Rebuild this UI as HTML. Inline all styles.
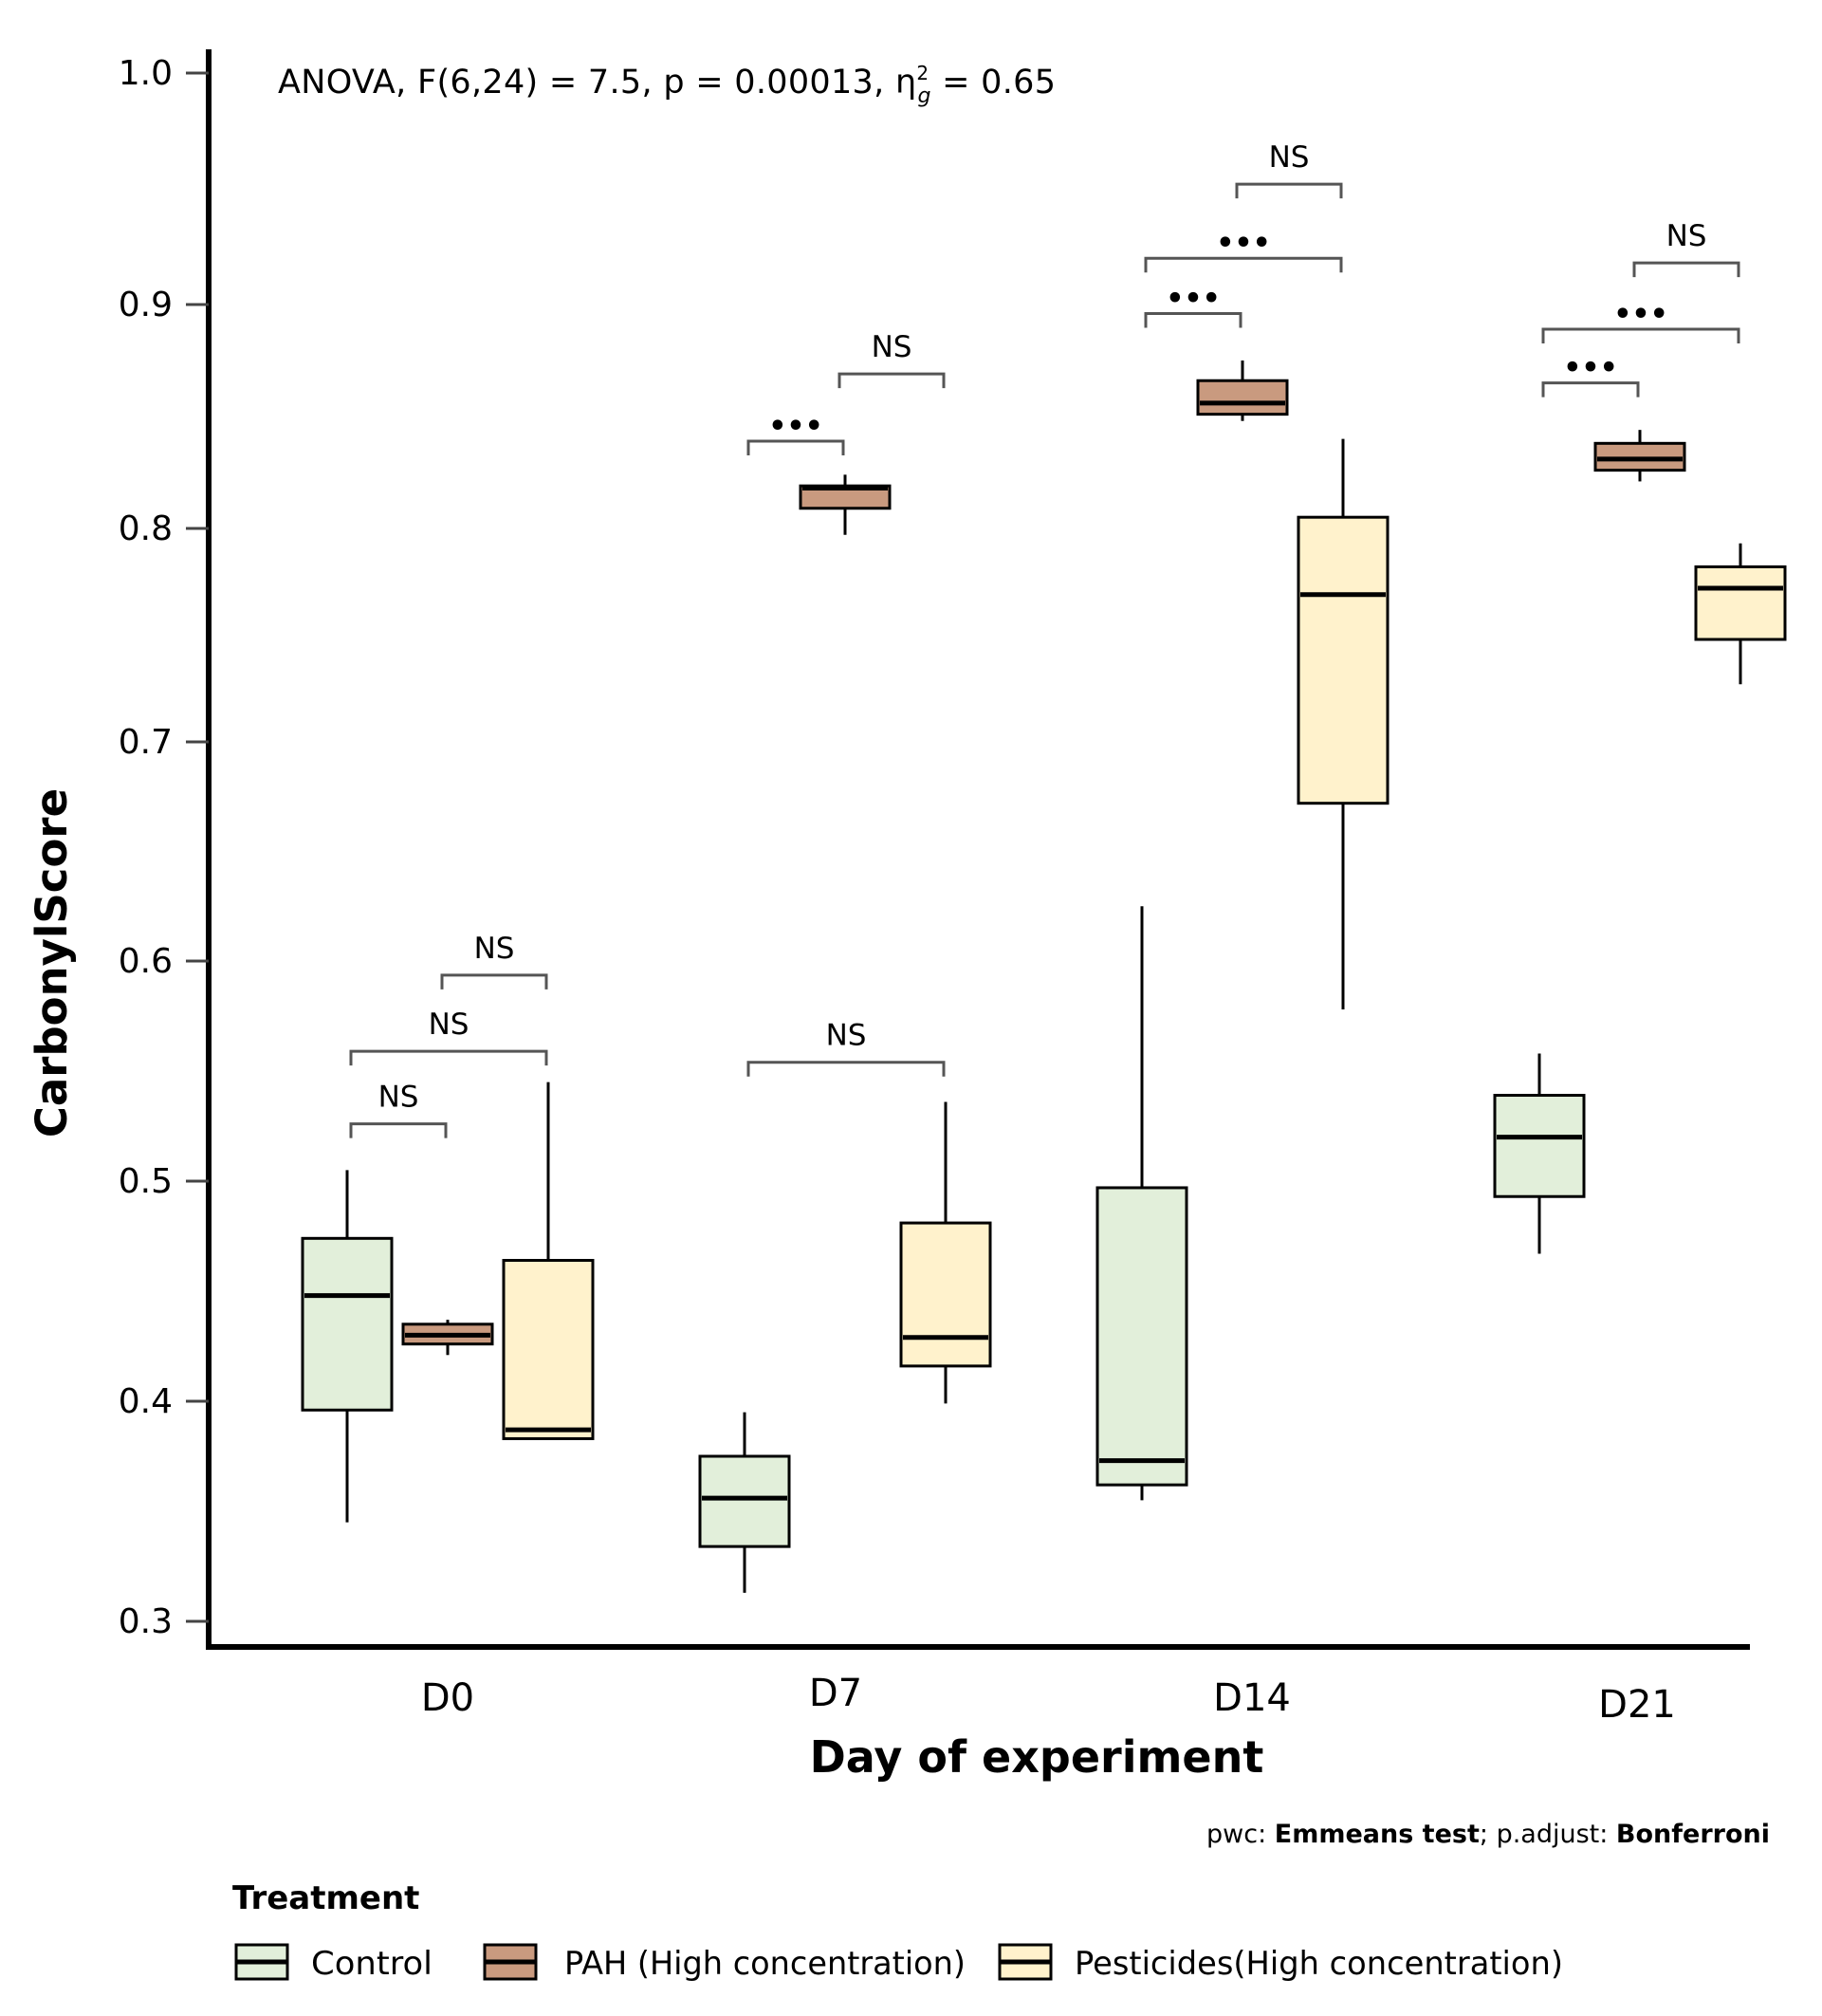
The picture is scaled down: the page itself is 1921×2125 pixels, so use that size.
<!DOCTYPE html>
<html><head><meta charset="utf-8"><style>
html,body{margin:0;padding:0;background:#fff}
svg{display:block}
text{font-family:"DejaVu Sans","Liberation Sans",sans-serif;fill:#000}
</style></head><body>
<svg id="chart" width="1921" height="2125" viewBox="0 0 1921 2125" xmlns="http://www.w3.org/2000/svg">
<g id="plot"></g>
<text x="293" y="98" font-size="35" textLength="820" lengthAdjust="spacing">ANOVA,  F(6,24) = 7.5,  p = 0.00013, η<tspan font-size="20" dy="-14">2</tspan><tspan font-size="22" dx="-12" dy="24" font-style="italic">g</tspan><tspan dy="-10"> =  0.65</tspan></text>
<text transform="translate(70,1015) rotate(-90)" text-anchor="middle" font-size="45" font-weight="bold">CarbonylScore</text>
<text x="1093" y="1868" text-anchor="middle" font-size="46" font-weight="bold">Day of experiment</text>
<text x="1866" y="1942" text-anchor="end" font-size="27">pwc: <tspan font-weight="bold">Emmeans test</tspan>; p.adjust: <tspan font-weight="bold">Bonferroni</tspan></text>
<text x="245" y="2012" font-size="34" font-weight="bold">Treatment</text>
<g id="legend"></g>
</svg>
<script>
const categories = ["D0","D7","D14","D21"];
const groups = ["Control","PAH (High concentration)","Pesticides(High concentration)"];
const colors = ["#e2efda","#c99a7f","#fff2cc"];
const yTicks = [0.3,0.4,0.5,0.6,0.7,0.8,0.9,1.0];
// per group: rows by category [whiskerLow, q1, median, q3, whiskerHigh]
const controlVals = [[0.345,0.396,0.448,0.474,0.505],[0.313,0.334,0.356,0.375,0.395],[0.355,0.362,0.373,0.497,0.625],[0.467,0.493,0.520,0.539,0.558]];
const pahVals = [[0.421,0.426,0.430,0.435,0.437],[0.797,0.809,0.818,0.819,0.824],[0.848,0.851,0.856,0.866,0.875],[0.821,0.826,0.831,0.838,0.844]];
const pestVals = [[0.383,0.383,0.387,0.464,0.545],[0.399,0.416,0.429,0.481,0.536],[0.578,0.672,0.769,0.805,0.840],[0.727,0.748,0.772,0.782,0.793]];
// brackets: [categoryIndex, groupA, groupB, yValue, label]
const bracketCat = [0,0,0,1,1,1,2,2,2,3,3,3];
const bracketFrom = [1,0,0,0,1,0,1,0,0,1,0,0];
const bracketTo = [2,2,1,1,2,2,2,2,1,2,2,1];
const bracketY = [0.5936,0.559,0.526,0.839,0.869,0.554,0.952,0.920,0.896,0.918,0.889,0.865];
const bracketLabel = ["NS","NS","NS","***","NS","NS","NS","***","***","NS","***","***"];

const NS='http://www.w3.org/2000/svg';
const tickPx=[1709,1477,1245,1013,782,557,321,77];
function y(v){for(let i=0;i<yTicks.length-1;i++){if(v<=yTicks[i+1]||i==yTicks.length-2){const t=(v-yTicks[i])/(yTicks[i+1]-yTicks[i]);return tickPx[i]+t*(tickPx[i+1]-tickPx[i]);}}}
function xc(ci){return 472+ci*419;}
function xg(ci,g){return xc(ci)+(g-1)*106;}
function mk(tag,attrs,parent){const e=document.createElementNS(NS,tag);for(const k in attrs)e.setAttribute(k,attrs[k]);parent.appendChild(e);return e;}
const plot=document.getElementById('plot');
let a=mk('line',{x1:220,y1:52,x2:220,y2:1739,stroke:'#000','stroke-width':6},plot);

a=mk('line',{x1:217,y1:1736,x2:1845,y2:1736,stroke:'#000','stroke-width':6},plot);

yTicks.forEach(v=>{const t=mk('line',{x1:196,y1:y(v),x2:220,y2:y(v),stroke:'#444','stroke-width':3},plot);

const l=mk('text',{x:182,y:y(v)+12,'text-anchor':'end','font-size':36},plot);l.textContent=v.toFixed(1);
});
const xLabOff=[-0,-10,10,-3], xLabY=[1803,1798,1803,1810];
categories.forEach((c,i)=>{const l=mk('text',{x:xc(i)+xLabOff[i],y:xLabY[i],'text-anchor':'middle','font-size':40},plot);l.textContent=c;
});
const all=[controlVals,pahVals,pestVals];
all.forEach((vals,g)=>{vals.forEach((r,ci)=>{const cx=xg(ci,g),w=94;
const gg=mk('g',{},plot);
mk('line',{x1:cx,y1:y(r[0]),x2:cx,y2:y(r[4]),stroke:'#000','stroke-width':3},gg);
mk('rect',{x:cx-w/2,y:y(r[3]),width:w,height:Math.max(1,y(r[1])-y(r[3])),fill:colors[g],stroke:'#000','stroke-width':3},gg);
mk('line',{x1:cx-w/2+2,y1:y(r[2]),x2:cx+w/2-2,y2:y(r[2]),stroke:'#000','stroke-width':5},gg);});});
bracketY.forEach((v,i)=>{const ci=bracketCat[i];const x1=xg(ci,bracketFrom[i])+(bracketFrom[i]==0?4:-6),x2=xg(ci,bracketTo[i])-2;const yy=y(v);
const gg=mk('g',{},plot);
mk('path',{d:`M${x1},${yy+15}V${yy}H${x2}V${yy+15}`,fill:'none',stroke:'#555','stroke-width':3},gg);
const star=bracketLabel[i]=='***';
const t=mk('text',{x:(x1+x2)/2,y:star?yy-6:yy-18,'text-anchor':'middle','font-size':star?30:31,'font-weight':star?'bold':'normal'},gg);t.textContent=star?'•••':bracketLabel[i];});
const leg=document.getElementById('legend');
const keyX=[249,511,1054], txtX=[328,595,1133];
const txtLen=[128,423,515];
groups.forEach((gname,g)=>{const gg=mk('g',{},leg);
mk('rect',{x:keyX[g],y:2050,width:54,height:36,fill:colors[g],stroke:'#000','stroke-width':3},gg);
mk('line',{x1:keyX[g],y1:2068,x2:keyX[g]+54,y2:2068,stroke:'#000','stroke-width':5},gg);
const t=mk('text',{x:txtX[g],y:2081,'font-size':34,textLength:txtLen[g],lengthAdjust:'spacingAndGlyphs'},gg);t.textContent=gname;});
</script>
</body></html>
